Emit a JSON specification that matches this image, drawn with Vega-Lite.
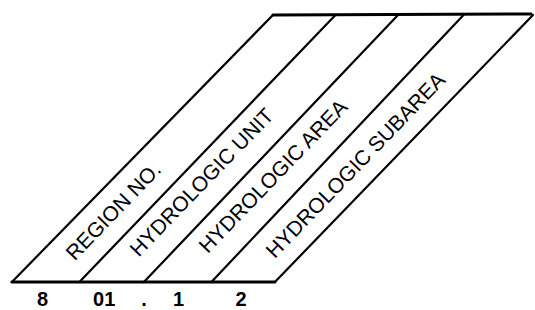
{
  "$schema": "https://vega.github.io/schema/vega-lite/v6.json",
  "width": 535,
  "height": 310,
  "padding": 0,
  "autosize": {"type": "fit", "contains": "padding"},
  "background": "white",
  "config": {"view": {"stroke": null}},
  "datasets": {
    "segments": [
      {"kind": "base", "x": 12, "y": 282, "x2": 277, "y2": 282},
      {"kind": "base", "x": 275, "y": 15, "x2": 535, "y2": 14},
      {"kind": "slant", "x": 12, "y": 282, "x2": 275, "y2": 15},
      {"kind": "slant", "x": 80, "y": 282, "x2": 338, "y2": 15},
      {"kind": "slant", "x": 145, "y": 282, "x2": 401, "y2": 15},
      {"kind": "slant", "x": 213, "y": 282, "x2": 467, "y2": 15},
      {"kind": "slant", "x": 277, "y": 282, "x2": 537, "y2": 15}
    ],
    "bands": [
      {"label": "REGION NO.", "x": 115, "y": 212},
      {"label": "HYDROLOGIC UNIT", "x": 204, "y": 183},
      {"label": "HYDROLOGIC AREA", "x": 276, "y": 177},
      {"label": "HYDROLOGIC SUBAREA", "x": 359, "y": 166}
    ],
    "code": [
      {"digit": "8", "x": 43, "y": 300},
      {"digit": "01", "x": 105, "y": 300},
      {"digit": ".", "x": 145, "y": 300},
      {"digit": "1", "x": 180, "y": 300},
      {"digit": "2", "x": 243, "y": 300}
    ]
  },
  "layer": [
    {
      "data": {"name": "segments"},
      "transform": [{"filter": "datum.kind === 'slant'"}],
      "mark": {"type": "rule", "color": "black", "strokeWidth": 2.2, "strokeCap": "round"},
      "encoding": {
        "x": {"field": "x", "type": "quantitative", "scale": {"domain": [0, 535], "nice": false, "zero": false}, "axis": null},
        "y": {"field": "y", "type": "quantitative", "scale": {"domain": [0, 310], "nice": false, "zero": false, "reverse": true}, "axis": null},
        "x2": {"field": "x2"},
        "y2": {"field": "y2"}
      }
    },
    {
      "data": {"name": "segments"},
      "transform": [{"filter": "datum.kind === 'base'"}],
      "mark": {"type": "rule", "color": "black", "strokeWidth": 3, "strokeCap": "round"},
      "encoding": {
        "x": {"field": "x", "type": "quantitative", "scale": {"domain": [0, 535], "nice": false, "zero": false}, "axis": null},
        "y": {"field": "y", "type": "quantitative", "scale": {"domain": [0, 310], "nice": false, "zero": false, "reverse": true}, "axis": null},
        "x2": {"field": "x2"},
        "y2": {"field": "y2"}
      }
    },
    {
      "data": {"name": "bands"},
      "mark": {"type": "text", "angle": -46, "align": "center", "baseline": "middle", "font": "Liberation Sans", "fontSize": 21, "color": "black"},
      "encoding": {
        "x": {"field": "x", "type": "quantitative", "axis": null},
        "y": {"field": "y", "type": "quantitative", "axis": null},
        "text": {"field": "label", "type": "nominal"}
      }
    },
    {
      "data": {"name": "code"},
      "mark": {"type": "text", "align": "center", "baseline": "middle", "font": "Liberation Sans", "fontSize": 20, "fontWeight": "bold", "color": "black"},
      "encoding": {
        "x": {"field": "x", "type": "quantitative", "axis": null},
        "y": {"field": "y", "type": "quantitative", "axis": null},
        "text": {"field": "digit", "type": "nominal"}
      }
    }
  ]
}
